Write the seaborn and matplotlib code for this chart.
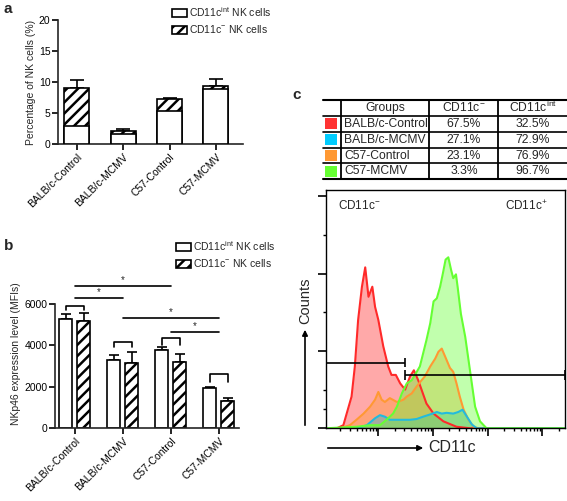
import numpy as np
import pandas as pd
import seaborn as sns
import matplotlib.pyplot as plt
from matplotlib.patches import Patch, Rectangle

sns.set_theme(style="ticks")
plt.rcParams['font.family'] = ['Liberation Sans', 'DejaVu Sans']
plt.rcParams['mathtext.default'] = 'regular'
plt.rcParams['hatch.color'] = 'black'
plt.rcParams['hatch.linewidth'] = 1.8

# ---- data ----
groups = ["BALB/c-Control", "BALB/c-MCMV", "C57-Control", "C57-MCMV"]

# panel a: percentage of NK cells (stacked)
pct_int = [2.9, 1.6, 5.3, 8.9]
pct_neg = [6.1, 0.55, 1.9, 0.45]
pct_err = [1.3, 0.2, 0.15, 1.15]

# panel b: NKp46 MFI
mfi_int = [5260, 3290, 3770, 1950]
mfi_int_err = [270, 240, 160, 50]
mfi_neg = [5190, 3160, 3190, 1320]
mfi_neg_err = [360, 520, 390, 110]

# panel c: table
neg_share = ["67.5%", "27.1%", "23.1%", "3.3%"]
int_share = ["32.5%", "72.9%", "76.9%", "96.7%"]
group_colors = ["#ff3333", "#00ccff", "#ff9933", "#66ff33"]

# panel c: histogram traces (log10 CD11c, counts)
red_x = [0.24, 0.36, 0.51, 0.57, 0.63, 0.70, 0.76, 0.82, 0.89, 0.94, 1.00, 1.09, 1.18,
         1.24, 1.32, 1.40, 1.49, 1.58, 1.65, 1.73, 1.79, 1.88, 2.01, 2.19, 2.43, 2.68]
red_y = [0, 4, 41, 80, 140, 183, 208, 170, 183, 157, 140, 106, 80,
         69, 69, 58, 50, 67, 75, 62, 50, 32, 19, 9, 2, 0]
orange_x = [0.30, 0.48, 0.60, 0.73, 0.85, 0.94, 1.00, 1.06, 1.12, 1.21, 1.34, 1.46, 1.52, 1.61, 1.70,
            1.79, 1.85, 1.95, 2.04, 2.10, 2.16, 2.22, 2.31, 2.37, 2.43, 2.49, 2.56, 2.65, 2.74, 2.83]
orange_y = [0, 4, 11, 19, 28, 37, 47, 37, 34, 39, 34, 37, 41, 45, 54,
            62, 67, 80, 90, 99, 103, 93, 78, 73, 58, 41, 24, 11, 2, 0]
cyan_x = [0.60, 0.79, 0.94, 1.03, 1.12, 1.21, 1.40, 1.58, 1.70, 1.82, 1.95, 2.07, 2.16, 2.25,
          2.37, 2.46, 2.54, 2.62, 2.71, 2.80]
cyan_y = [0, 4, 13, 17, 15, 11, 11, 11, 12, 15, 18, 21, 19, 20, 19, 21, 24, 15, 5, 0]
green_x = [0.60, 0.85, 1.03, 1.15, 1.27, 1.34, 1.43, 1.52, 1.61, 1.67, 1.76, 1.82, 1.88, 1.95, 2.01, 2.07,
           2.13, 2.18, 2.23, 2.28, 2.33, 2.37, 2.42, 2.45, 2.51, 2.59, 2.65, 2.71, 2.77, 2.86, 2.98]
green_y = [2, 4, 4, 11, 19, 28, 45, 58, 62, 69, 80, 97, 114, 136, 164, 168,
           183, 200, 218, 221, 205, 194, 199, 183, 148, 118, 88, 58, 28, 9, 0]
gate_split = 1.48
gate_neg_y = 85
gate_pos_y = 69

W, H = 567, 501
fig = plt.figure(figsize=(W / 100, H / 100), dpi=100)


def style_ax(ax):
    sns.despine(ax=ax)
    for s in ["left", "bottom"]:
        ax.spines[s].set_linewidth(1.2)
    ax.tick_params(width=1.2, length=4, labelsize=7.5, pad=1.5, colors="black")


# ---- panel a ----
ax_a = fig.add_axes([58 / W, 1 - 144 / H, 185 / W, 124 / H])
df_a = pd.DataFrame({"group": groups, "int": pct_int,
                     "total": [i + n for i, n in zip(pct_int, pct_neg)]})
ax_a.errorbar(range(len(groups)), df_a["total"], yerr=[[0] * 4, pct_err], fmt="none",
              ecolor="black", elinewidth=1.2, capsize=5, capthick=1.2, zorder=1)
sns.barplot(data=df_a, x="group", y="total", color="white", saturation=1, edgecolor="black",
            linewidth=1.2, hatch="///", width=0.54, ax=ax_a, zorder=2)
sns.barplot(data=df_a, x="group", y="int", color="white", saturation=1, edgecolor="black",
            linewidth=1.2, width=0.54, ax=ax_a, zorder=3)
ax_a.set_ylim(0, 20)
ax_a.set_yticks([0, 5, 10, 15, 20])
ax_a.set_xlim(-0.41, 3.585)
ax_a.set_xlabel("")
ax_a.set_ylabel("Percentage of NK cells (%)", fontsize=7.5, labelpad=2)
style_ax(ax_a)
plt.setp(ax_a.get_xticklabels(), rotation=45, ha="right", rotation_mode="anchor")

leg_handles = [Patch(facecolor="white", edgecolor="black", linewidth=1.2),
               Patch(facecolor="white", edgecolor="black", linewidth=1.2, hatch="///")]
leg_labels = ["CD11c$^{int}$ NK cells", "CD11c$^{-}$ NK cells"]
leg_kw = dict(loc="upper left", frameon=False, fontsize=7.5, handlelength=1.4, handleheight=0.8,
              handletextpad=0.2, labelspacing=0.45, borderpad=0, borderaxespad=0)
fig.legend(leg_handles, leg_labels, bbox_to_anchor=(172 / W, 1 - 5 / H), **leg_kw)

# ---- panel b ----
ax_b = fig.add_axes([55 / W, 1 - 428 / H, 184 / W, 148.8 / H])
df_b = pd.DataFrame({"group": groups * 2,
                     "subset": ["int"] * 4 + ["neg"] * 4,
                     "mfi": mfi_int + mfi_neg})
sns.barplot(data=df_b, x="group", y="mfi", hue="subset", palette=["white", "white"],
            saturation=1, edgecolor="black", linewidth=1.2, width=0.75, gap=0.27,
            errorbar=None, legend=False, ax=ax_b, zorder=2)
bars = ax_b.patches
for p in bars[4:8]:
    p.set_hatch("///")
xs_int = [p.get_x() + p.get_width() / 2 for p in bars[:4]]
xs_neg = [p.get_x() + p.get_width() / 2 for p in bars[4:8]]
ax_b.errorbar(xs_int, mfi_int, yerr=[[0] * 4, mfi_int_err], fmt="none", ecolor="black",
              elinewidth=1.2, capsize=3.5, capthick=1.2, zorder=1)
ax_b.errorbar(xs_neg, mfi_neg, yerr=[[0] * 4, mfi_neg_err], fmt="none", ecolor="black",
              elinewidth=1.2, capsize=3.5, capthick=1.2, zorder=1)

# within-group brackets
bracket_top = [5890, 4180, 4340, 2600]
bracket_leg = [5710, 3930, 4010, 2240]
for xi, xn, top, leg in zip(xs_int, xs_neg, bracket_top, bracket_leg):
    ax_b.plot([xi, xi, xn, xn], [leg, top, top, leg], color="black", lw=1.2, clip_on=False)
# between-group comparisons
sig_lines = [(0, 2, 6890), (0, 1, 6280), (1, 3, 5340), (2, 3, 4660)]
for g1, g2, yy in sig_lines:
    ax_b.plot([g1, g2], [yy, yy], color="black", lw=1.2, clip_on=False)
    ax_b.text((g1 + g2) / 2, yy + 40, "*", ha="center", va="bottom", fontsize=7)

ax_b.set_ylim(0, 7200)
ax_b.set_yticks([0, 2000, 4000, 6000])
ax_b.set_xlim(-0.41, 3.42)
ax_b.set_xlabel("")
ax_b.set_ylabel("NKp46 expression level (MFIs)", fontsize=7.5, labelpad=2)
style_ax(ax_b)
ax_b.spines["left"].set_bounds(0, 6000)
plt.setp(ax_b.get_xticklabels(), rotation=45, ha="right", rotation_mode="anchor")
fig.legend(leg_handles, leg_labels, bbox_to_anchor=(176 / W, 1 - 239 / H), **leg_kw)

# ---- panel c table ----
ax_t = fig.add_axes([323 / W, 1 - 179.3 / H, 244 / W, 79.3 / H])
ax_t.set_xlim(0, 244)
ax_t.set_ylim(5, 0)
ax_t.axis("off")
for r in range(6):
    ax_t.axhline(r, color="black", lw=1.5 if r in (0, 5) else 1.2, clip_on=False)
for cx in [17.7, 106.3, 175.3]:
    ax_t.plot([cx, cx], [0, 5], color="black", lw=1.3, clip_on=False)
tfs = 8.7
ax_t.text(62, 0.5, "Groups", ha="center", va="center", fontsize=tfs)
ax_t.text(140.8, 0.5, "CD11c$^{-}$", ha="center", va="center", fontsize=tfs)
ax_t.text(209.7, 0.45, "CD11c$^{int}$", ha="center", va="center", fontsize=tfs)
for i, (g, c, n, t) in enumerate(zip(groups, group_colors, neg_share, int_share)):
    ax_t.add_patch(Rectangle((2.3, i + 1.15), 11.4, 0.7, facecolor=c, edgecolor="none"))
    ax_t.text(21.2, i + 1.5, g, ha="left", va="center", fontsize=tfs)
    ax_t.text(140.8, i + 1.5, n, ha="center", va="center", fontsize=tfs)
    ax_t.text(209.7, i + 1.5, t, ha="center", va="center", fontsize=tfs)

# ---- panel c histogram ----
ax_h = fig.add_axes([325.7 / W, 1 - 428.3 / H, 239.6 / W, 238.3 / H])
xmin, xmax = 0.037, 4.42
traces = [(red_x, red_y, "#ff2a2a"), (orange_x, orange_y, "#ff9933"),
          (cyan_x, cyan_y, "#22bbdd"), (green_x, green_y, "#66ff33")]
for tx, ty, c in traces:
    x = [xmin] + tx + [xmax]
    y = [0] + ty + [0]
    ax_h.fill_between(x, y, color=c, alpha=0.4, lw=0)
    sns.lineplot(x=x, y=y, color=c, lw=1.5, estimator=None, ax=ax_h)
ax_h.hlines(gate_neg_y, xmin, gate_split, color="black", lw=1.2)
ax_h.vlines(gate_split, gate_neg_y - 6, gate_neg_y + 6, color="black", lw=1.2)
ax_h.hlines(gate_pos_y, gate_split, xmax, color="black", lw=1.2)
ax_h.vlines([gate_split, xmax], gate_pos_y - 6, gate_pos_y + 6, color="black", lw=1.2, clip_on=False)
ax_h.set_xlim(xmin, xmax)
ax_h.set_ylim(0, 308)
ax_h.set_yticks([0, 100, 200, 300])
ax_h.set_yticks([25, 50, 150, 250], minor=True)
ax_h.set_xticks([1, 2, 3, 4])
minor_x = [np.log10(k * 10 ** d) for d in range(5) for k in range(2, 10)]
ax_h.set_xticks([m for m in minor_x if xmin < m < xmax], minor=True)
ax_h.set_xticklabels([])
ax_h.set_yticklabels([])
ax_h.tick_params(which="major", length=6, width=1.2, direction="out", colors="black")
ax_h.tick_params(which="minor", length=2.5, width=1, direction="out", colors="black")
for s in ax_h.spines.values():
    s.set_linewidth(1)
    s.set_color("black")
ax_h.set_xlabel("")
ax_h.set_ylabel("")
ax_h.text(0.053, 0.933, "CD11c$^{-}$", transform=ax_h.transAxes, ha="left", va="center", fontsize=8.5)
ax_h.text(0.748, 0.933, "CD11c$^{+}$", transform=ax_h.transAxes, ha="left", va="center", fontsize=8.5)

# axis arrows
fig.add_artist(plt.Annotation("", xy=(305 / W, 1 - 327 / H), xytext=(305 / W, 1 - 428 / H),
                              xycoords="figure fraction",
                              arrowprops=dict(arrowstyle="-|>", color="black", lw=1.2,
                                              mutation_scale=8)))
fig.text(305 / W, 1 - 301 / H, "Counts", rotation=90, ha="center", va="center", fontsize=10.5)
fig.add_artist(plt.Annotation("", xy=(426 / W, 1 - 448 / H), xytext=(325 / W, 1 - 448 / H),
                              xycoords="figure fraction",
                              arrowprops=dict(arrowstyle="-|>", color="black", lw=1.2,
                                              mutation_scale=8)))
fig.text(428 / W, 1 - 448 / H, "CD11c", ha="left", va="center", fontsize=11.5)

# panel letters
fig.text(4 / W, 1 - 9 / H, "a", fontsize=11, fontweight="bold", va="center")
fig.text(4 / W, 1 - 246 / H, "b", fontsize=11, fontweight="bold", va="center")
fig.text(292 / W, 1 - 95 / H, "c", fontsize=11, fontweight="bold", va="center")

fig.savefig("out.png", dpi=100)
